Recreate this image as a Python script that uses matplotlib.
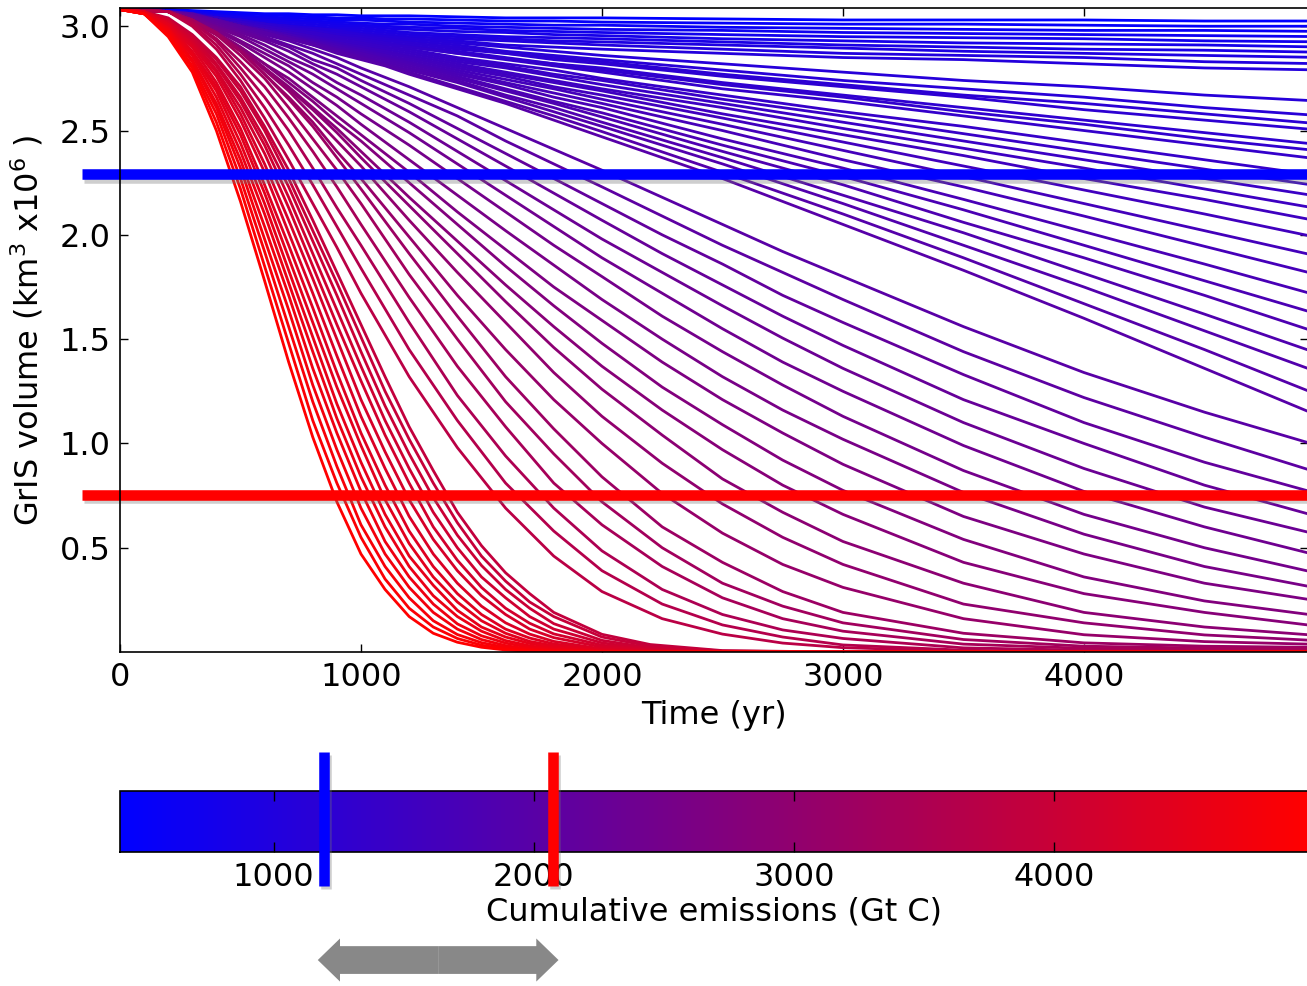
import matplotlib
matplotlib.use("Agg")
import matplotlib.pyplot as plt
import matplotlib.patheffects as pe
from matplotlib.colors import LinearSegmentedColormap, Normalize
from matplotlib.cm import ScalarMappable

# ---- data (ice volume in km3 x1e6), runs ordered from low to high emissions ----
years = [0, 100, 200, 300, 400, 500, 600, 700, 800, 900, 1000, 1100, 1200,
         1400, 1600, 1800, 2000, 2500, 3000, 3500, 4000, 4500, 5000]

stable_emissions = [420, 500, 580, 660, 740, 820, 880, 940, 1000, 1050]
stable_runs = [
    [3.08, 3.08, 3.08, 3.075, 3.07, 3.065, 3.06, 3.06, 3.055, 3.055, 3.05, 3.05, 3.05, 3.045, 3.04, 3.04, 3.04, 3.035, 3.03, 3.03, 3.03, 3.025, 3.025],
    [3.08, 3.08, 3.08, 3.07, 3.065, 3.06, 3.055, 3.05, 3.045, 3.04, 3.04, 3.035, 3.035, 3.03, 3.025, 3.025, 3.02, 3.015, 3.01, 3.01, 3.005, 3.00, 3.00],
    [3.08, 3.08, 3.075, 3.07, 3.06, 3.05, 3.045, 3.04, 3.035, 3.03, 3.03, 3.025, 3.02, 3.015, 3.01, 3.005, 3.005, 2.995, 2.99, 2.985, 2.98, 2.98, 2.975],
    [3.08, 3.08, 3.075, 3.065, 3.055, 3.045, 3.04, 3.03, 3.025, 3.02, 3.015, 3.01, 3.01, 3.00, 2.995, 2.99, 2.985, 2.98, 2.97, 2.965, 2.96, 2.955, 2.95],
    [3.08, 3.08, 3.075, 3.06, 3.05, 3.04, 3.03, 3.02, 3.02, 3.01, 3.005, 3.00, 2.995, 2.99, 2.98, 2.975, 2.97, 2.96, 2.95, 2.945, 2.94, 2.93, 2.925],
    [3.08, 3.08, 3.07, 3.06, 3.05, 3.04, 3.03, 3.02, 3.01, 3.00, 3.00, 2.99, 2.985, 2.975, 2.97, 2.96, 2.955, 2.94, 2.93, 2.92, 2.915, 2.91, 2.90],
    [3.08, 3.08, 3.07, 3.06, 3.04, 3.03, 3.02, 3.01, 3.00, 2.99, 2.99, 2.98, 2.97, 2.96, 2.95, 2.945, 2.94, 2.925, 2.91, 2.90, 2.89, 2.885, 2.875],
    [3.08, 3.08, 3.07, 3.055, 3.04, 3.03, 3.015, 3.00, 2.99, 2.985, 2.98, 2.97, 2.96, 2.95, 2.94, 2.93, 2.925, 2.91, 2.895, 2.88, 2.87, 2.86, 2.85],
    [3.08, 3.08, 3.07, 3.05, 3.04, 3.02, 3.01, 3.00, 2.99, 2.98, 2.97, 2.96, 2.95, 2.94, 2.93, 2.92, 2.91, 2.89, 2.87, 2.86, 2.85, 2.83, 2.82],
    [3.08, 3.08, 3.07, 3.05, 3.03, 3.02, 3.00, 2.99, 2.98, 2.97, 2.96, 2.95, 2.94, 2.93, 2.91, 2.90, 2.89, 2.87, 2.85, 2.84, 2.82, 2.80, 2.79],
]

slow_emissions = [1100, 1140, 1180, 1220, 1260, 1300, 1340, 1380, 1420, 1460, 1500,
                  1540, 1585, 1630, 1675, 1720, 1765, 1810, 1850, 1890, 1930, 1970]
slow_runs = [
    [3.08, 3.08, 3.07, 3.06, 3.04, 3.03, 3.01, 3.00, 2.99, 2.98, 2.96, 2.95, 2.94, 2.92, 2.90, 2.88, 2.86, 2.82, 2.78, 2.74, 2.71, 2.67, 2.64],
    [3.08, 3.08, 3.07, 3.06, 3.04, 3.03, 3.01, 3.00, 2.98, 2.97, 2.96, 2.94, 2.93, 2.91, 2.88, 2.86, 2.84, 2.79, 2.74, 2.70, 2.66, 2.61, 2.57],
    [3.08, 3.08, 3.07, 3.055, 3.04, 3.02, 3.01, 2.99, 2.98, 2.96, 2.95, 2.94, 2.92, 2.90, 2.87, 2.85, 2.83, 2.77, 2.72, 2.67, 2.63, 2.58, 2.53],
    [3.08, 3.08, 3.07, 3.06, 3.04, 3.02, 3.01, 2.99, 2.98, 2.96, 2.95, 2.93, 2.92, 2.89, 2.87, 2.84, 2.82, 2.76, 2.71, 2.66, 2.60, 2.55, 2.50],
    [3.08, 3.08, 3.07, 3.05, 3.04, 3.02, 3.00, 2.99, 2.97, 2.95, 2.94, 2.92, 2.91, 2.88, 2.85, 2.82, 2.80, 2.73, 2.67, 2.61, 2.55, 2.49, 2.43],
    [3.08, 3.08, 3.07, 3.05, 3.04, 3.02, 3.00, 2.98, 2.97, 2.95, 2.94, 2.92, 2.90, 2.87, 2.845, 2.82, 2.79, 2.72, 2.66, 2.59, 2.53, 2.46, 2.40],
    [3.08, 3.08, 3.07, 3.05, 3.04, 3.02, 3.00, 2.98, 2.97, 2.95, 2.93, 2.91, 2.90, 2.87, 2.84, 2.81, 2.78, 2.70, 2.64, 2.57, 2.50, 2.43, 2.36],
    [3.08, 3.08, 3.07, 3.05, 3.03, 3.01, 3.00, 2.98, 2.96, 2.94, 2.92, 2.90, 2.89, 2.85, 2.82, 2.79, 2.75, 2.67, 2.59, 2.52, 2.44, 2.36, 2.28],
    [3.08, 3.08, 3.07, 3.05, 3.03, 3.01, 2.99, 2.97, 2.95, 2.935, 2.92, 2.90, 2.88, 2.84, 2.81, 2.77, 2.74, 2.65, 2.57, 2.485, 2.40, 2.315, 2.23],
    [3.08, 3.08, 3.07, 3.05, 3.03, 3.01, 2.99, 2.97, 2.95, 2.93, 2.91, 2.89, 2.87, 2.83, 2.80, 2.76, 2.72, 2.63, 2.54, 2.45, 2.36, 2.27, 2.18],
    [3.08, 3.08, 3.07, 3.05, 3.03, 3.01, 2.99, 2.97, 2.95, 2.92, 2.90, 2.88, 2.86, 2.82, 2.78, 2.74, 2.70, 2.61, 2.51, 2.415, 2.32, 2.22, 2.12],
    [3.08, 3.08, 3.07, 3.05, 3.03, 3.01, 2.98, 2.96, 2.94, 2.92, 2.90, 2.88, 2.85, 2.81, 2.77, 2.73, 2.69, 2.58, 2.48, 2.38, 2.27, 2.17, 2.06],
    [3.08, 3.08, 3.07, 3.05, 3.03, 3.005, 2.98, 2.96, 2.94, 2.915, 2.89, 2.87, 2.85, 2.80, 2.76, 2.71, 2.67, 2.56, 2.445, 2.33, 2.215, 2.10, 1.98],
    [3.08, 3.08, 3.07, 3.05, 3.03, 3.005, 2.98, 2.96, 2.935, 2.91, 2.89, 2.86, 2.84, 2.79, 2.745, 2.70, 2.65, 2.53, 2.405, 2.28, 2.15, 2.02, 1.89],
    [3.08, 3.08, 3.07, 3.05, 3.03, 3.00, 2.98, 2.96, 2.93, 2.91, 2.88, 2.86, 2.83, 2.78, 2.73, 2.68, 2.63, 2.50, 2.36, 2.23, 2.09, 1.945, 1.80],
    [3.08, 3.08, 3.07, 3.05, 3.03, 3.00, 2.98, 2.95, 2.93, 2.90, 2.88, 2.85, 2.825, 2.77, 2.72, 2.66, 2.61, 2.46, 2.32, 2.17, 2.015, 1.86, 1.70],
    [3.08, 3.08, 3.07, 3.05, 3.03, 3.00, 2.98, 2.95, 2.925, 2.90, 2.87, 2.845, 2.82, 2.76, 2.70, 2.64, 2.585, 2.43, 2.28, 2.12, 1.95, 1.78, 1.61],
    [3.08, 3.08, 3.07, 3.05, 3.03, 3.00, 2.98, 2.95, 2.92, 2.89, 2.87, 2.84, 2.81, 2.75, 2.69, 2.63, 2.565, 2.40, 2.24, 2.06, 1.89, 1.71, 1.52],
    [3.08, 3.08, 3.07, 3.05, 3.03, 3.00, 2.97, 2.95, 2.92, 2.89, 2.86, 2.83, 2.80, 2.74, 2.67, 2.61, 2.54, 2.37, 2.19, 2.01, 1.815, 1.62, 1.42],
    [3.08, 3.08, 3.07, 3.05, 3.025, 3.00, 2.97, 2.94, 2.92, 2.885, 2.855, 2.82, 2.79, 2.73, 2.66, 2.59, 2.52, 2.34, 2.15, 1.95, 1.75, 1.54, 1.33],
    [3.08, 3.08, 3.07, 3.05, 3.03, 3.00, 2.97, 2.94, 2.91, 2.88, 2.85, 2.815, 2.78, 2.71, 2.64, 2.57, 2.495, 2.30, 2.10, 1.89, 1.67, 1.45, 1.22],
    [3.08, 3.08, 3.07, 3.05, 3.025, 3.00, 2.97, 2.94, 2.91, 2.87, 2.84, 2.81, 2.77, 2.70, 2.63, 2.55, 2.47, 2.27, 2.05, 1.83, 1.60, 1.36, 1.12],
]

fast_years = [0, 200, 300, 400, 500, 600, 700, 800, 900, 1000, 1200, 1400,
              1600, 1800, 2000, 2250, 2500, 2750, 3000, 3500, 4000, 4500, 5000]
fast_emissions = [2000, 2080, 2160, 2240, 2320, 2400, 2480, 2560, 2650, 2740,
                  2830, 2920, 3010, 3100, 3200, 3300, 3400, 3500, 3620, 3740]
fast_runs = [
    [3.08, 3.07, 3.06, 3.03, 3.00, 2.96, 2.93, 2.89, 2.85, 2.80, 2.71, 2.61, 2.51, 2.41, 2.31, 2.18, 2.05, 1.92, 1.80, 1.56, 1.34, 1.15, 0.98],
    [3.08, 3.07, 3.05, 3.03, 2.99, 2.95, 2.91, 2.87, 2.82, 2.77, 2.67, 2.57, 2.45, 2.34, 2.23, 2.09, 1.95, 1.82, 1.69, 1.44, 1.22, 1.03, 0.85],
    [3.08, 3.07, 3.05, 3.02, 2.98, 2.94, 2.90, 2.84, 2.80, 2.74, 2.63, 2.51, 2.39, 2.27, 2.15, 2.00, 1.86, 1.71, 1.58, 1.33, 1.10, 0.91, 0.75],
    [3.08, 3.07, 3.05, 3.01, 2.97, 2.93, 2.88, 2.82, 2.77, 2.71, 2.59, 2.46, 2.33, 2.20, 2.07, 1.91, 1.76, 1.61, 1.47, 1.21, 1.00, 0.80, 0.64],
    [3.08, 3.07, 3.045, 3.00, 2.96, 2.91, 2.85, 2.80, 2.73, 2.67, 2.54, 2.40, 2.26, 2.12, 1.98, 1.82, 1.66, 1.505, 1.36, 1.10, 0.88, 0.695, 0.555],
    [3.08, 3.07, 3.04, 2.995, 2.95, 2.89, 2.83, 2.77, 2.70, 2.63, 2.49, 2.34, 2.19, 2.04, 1.89, 1.72, 1.55, 1.39, 1.25, 0.99, 0.77, 0.60, 0.455],
    [3.08, 3.07, 3.03, 2.99, 2.93, 2.87, 2.81, 2.73, 2.66, 2.58, 2.43, 2.27, 2.11, 1.95, 1.80, 1.61, 1.44, 1.28, 1.13, 0.87, 0.66, 0.50, 0.37],
    [3.08, 3.07, 3.03, 2.98, 2.92, 2.85, 2.78, 2.70, 2.62, 2.53, 2.36, 2.19, 2.02, 1.855, 1.69, 1.50, 1.32, 1.16, 1.02, 0.765, 0.565, 0.41, 0.30],
    [3.08, 3.07, 3.03, 2.97, 2.90, 2.82, 2.75, 2.66, 2.57, 2.48, 2.30, 2.11, 1.93, 1.75, 1.59, 1.39, 1.21, 1.05, 0.90, 0.65, 0.47, 0.33, 0.24],
    [3.08, 3.07, 3.02, 2.97, 2.90, 2.82, 2.73, 2.64, 2.54, 2.45, 2.25, 2.05, 1.85, 1.66, 1.48, 1.27, 1.09, 0.92, 0.775, 0.54, 0.36, 0.245, 0.17],
    [3.08, 3.07, 3.02, 2.96, 2.89, 2.80, 2.71, 2.61, 2.51, 2.40, 2.18, 1.97, 1.76, 1.56, 1.37, 1.16, 0.97, 0.80, 0.66, 0.43, 0.28, 0.19, 0.12],
    [3.08, 3.07, 3.03, 2.97, 2.89, 2.80, 2.70, 2.60, 2.49, 2.37, 2.14, 1.91, 1.68, 1.46, 1.26, 1.04, 0.83, 0.67, 0.53, 0.33, 0.19, 0.12, 0.077],
    [3.08, 3.07, 3.03, 2.96, 2.89, 2.79, 2.69, 2.57, 2.45, 2.33, 2.07, 1.82, 1.58, 1.34, 1.13, 0.905, 0.71, 0.55, 0.42, 0.23, 0.14, 0.082, 0.053],
    [3.08, 3.07, 3.03, 2.96, 2.88, 2.77, 2.66, 2.54, 2.40, 2.27, 1.99, 1.71, 1.45, 1.21, 1.00, 0.76, 0.57, 0.42, 0.31, 0.16, 0.083, 0.05, 0.036],
    [3.08, 3.07, 3.03, 2.97, 2.88, 2.77, 2.65, 2.52, 2.37, 2.22, 1.91, 1.61, 1.32, 1.07, 0.84, 0.60, 0.43, 0.29, 0.19, 0.09, 0.044, 0.028, 0.022],
    [3.08, 3.07, 3.03, 2.96, 2.86, 2.75, 2.61, 2.46, 2.31, 2.15, 1.81, 1.50, 1.20, 0.95, 0.72, 0.50, 0.33, 0.22, 0.14, 0.06, 0.028, 0.019, 0.015],
    [3.08, 3.07, 3.02, 2.94, 2.83, 2.71, 2.56, 2.40, 2.23, 2.05, 1.70, 1.37, 1.08, 0.81, 0.61, 0.41, 0.26, 0.16, 0.10, 0.038, 0.018, 0.012, 0.01],
    [3.08, 3.07, 3.02, 2.93, 2.80, 2.66, 2.50, 2.32, 2.13, 1.95, 1.58, 1.23, 0.94, 0.69, 0.485, 0.30, 0.18, 0.106, 0.065, 0.02, 0.009, 0.005, 0.005],
    [3.08, 3.07, 3.01, 2.91, 2.77, 2.61, 2.43, 2.24, 2.04, 1.84, 1.45, 1.11, 0.81, 0.58, 0.39, 0.23, 0.13, 0.072, 0.034, 0.009, 0, 0, 0],
    [3.08, 3.07, 3.00, 2.89, 2.74, 2.56, 2.36, 2.15, 1.94, 1.72, 1.32, 0.98, 0.69, 0.46, 0.29, 0.16, 0.086, 0.043, 0.021, 0.004, 0, 0, 0],
]

collapse_years = [0, 100, 200, 300, 400, 500, 600, 700, 800, 900, 1000, 1100,
                  1200, 1300, 1400, 1500, 1600, 1700, 1800, 2000, 2200, 2500, 3000, 5000]
collapse_emissions = [3880, 3950, 4020, 4090, 4160, 4230, 4300, 4380,
                      4450, 4520, 4600, 4670, 4750, 4820, 4900, 4970]
collapse_runs = [
    [3.08, 3.07, 3.04, 2.96, 2.85, 2.71, 2.52, 2.31, 2.07, 1.82, 1.57, 1.32, 1.08, 0.87, 0.67, 0.51, 0.38, 0.28, 0.19, 0.085, 0.036, 0.007, 0, 0],
    [3.08, 3.07, 3.03, 2.95, 2.84, 2.69, 2.50, 2.27, 2.02, 1.77, 1.51, 1.25, 1.02, 0.81, 0.62, 0.46, 0.34, 0.24, 0.17, 0.072, 0.028, 0.005, 0, 0],
    [3.08, 3.07, 3.03, 2.95, 2.82, 2.66, 2.46, 2.23, 1.97, 1.71, 1.44, 1.18, 0.95, 0.74, 0.56, 0.415, 0.30, 0.21, 0.136, 0.056, 0.02, 0.003, 0, 0],
    [3.08, 3.07, 3.03, 2.94, 2.81, 2.64, 2.43, 2.18, 1.91, 1.64, 1.37, 1.11, 0.88, 0.67, 0.50, 0.36, 0.26, 0.17, 0.11, 0.044, 0.014, 0.002, 0, 0],
    [3.08, 3.07, 3.03, 2.93, 2.79, 2.61, 2.39, 2.13, 1.85, 1.57, 1.30, 1.04, 0.81, 0.60, 0.44, 0.31, 0.21, 0.138, 0.087, 0.033, 0.01, 0.001, 0, 0],
    [3.08, 3.07, 3.02, 2.92, 2.78, 2.58, 2.34, 2.07, 1.79, 1.50, 1.21, 0.96, 0.73, 0.54, 0.39, 0.27, 0.18, 0.11, 0.069, 0.024, 0.007, 0, 0, 0],
    [3.08, 3.07, 3.02, 2.91, 2.76, 2.55, 2.30, 2.01, 1.72, 1.42, 1.13, 0.88, 0.65, 0.47, 0.33, 0.22, 0.14, 0.086, 0.051, 0.015, 0.004, 0, 0, 0],
    [3.08, 3.07, 3.01, 2.90, 2.73, 2.51, 2.24, 1.95, 1.65, 1.34, 1.05, 0.80, 0.58, 0.41, 0.28, 0.18, 0.11, 0.067, 0.039, 0.011, 0.003, 0, 0, 0],
    [3.08, 3.07, 3.01, 2.88, 2.71, 2.48, 2.20, 1.89, 1.58, 1.27, 0.99, 0.73, 0.52, 0.36, 0.24, 0.15, 0.09, 0.051, 0.03, 0.007, 0.002, 0, 0, 0],
    [3.08, 3.07, 3.00, 2.87, 2.69, 2.44, 2.15, 1.83, 1.51, 1.19, 0.91, 0.66, 0.46, 0.32, 0.20, 0.12, 0.072, 0.041, 0.021, 0.005, 0.001, 0, 0, 0],
    [3.08, 3.06, 2.99, 2.86, 2.66, 2.40, 2.10, 1.77, 1.44, 1.12, 0.84, 0.60, 0.41, 0.27, 0.17, 0.10, 0.055, 0.03, 0.014, 0.003, 0, 0, 0, 0],
    [3.08, 3.06, 2.99, 2.84, 2.63, 2.36, 2.04, 1.71, 1.36, 1.05, 0.77, 0.53, 0.36, 0.23, 0.135, 0.078, 0.043, 0.022, 0.01, 0.002, 0, 0, 0, 0],
    [3.08, 3.06, 2.98, 2.83, 2.61, 2.32, 1.98, 1.64, 1.28, 0.97, 0.69, 0.47, 0.31, 0.19, 0.11, 0.06, 0.031, 0.014, 0.007, 0.001, 0, 0, 0, 0],
    [3.08, 3.06, 2.97, 2.81, 2.58, 2.27, 1.92, 1.56, 1.20, 0.89, 0.61, 0.41, 0.26, 0.15, 0.084, 0.045, 0.022, 0.01, 0.004, 0, 0, 0, 0, 0],
    [3.08, 3.06, 2.96, 2.80, 2.54, 2.22, 1.85, 1.48, 1.11, 0.81, 0.55, 0.35, 0.21, 0.12, 0.065, 0.033, 0.014, 0.006, 0.003, 0, 0, 0, 0, 0],
    [3.08, 3.06, 2.95, 2.78, 2.50, 2.16, 1.78, 1.39, 1.03, 0.72, 0.47, 0.30, 0.17, 0.09, 0.047, 0.023, 0.01, 0.004, 0.002, 0, 0, 0, 0, 0],
]

# thresholds marked on the figure
threshold_volume = [2.29, 0.755]
threshold_emissions = [1192, 2074]
threshold_colors = ['#0000ff', '#ff0000']
arrow_span = [1170, 2095]

fs = 23
cmap = LinearSegmentedColormap.from_list('blue_red', ['#0000ff', '#ff0000'])
norm = Normalize(vmin=410, vmax=4975)

fig = plt.figure(figsize=(13.07, 9.86), dpi=100)
ax = fig.add_axes([0.0918, 0.3387, 0.909, 0.6531])

groups = [(years, stable_runs, stable_emissions),
          (years, slow_runs, slow_emissions),
          (fast_years, fast_runs, fast_emissions),
          (collapse_years, collapse_runs, collapse_emissions)]
for t, runs, emis in groups:
    for vol, e in zip(runs, emis):
        ax.plot(t, vol, color=cmap(norm(e)), lw=2.0)

ax.set_xlim(0, 4930)
ax.set_ylim(0, 3.087)
ax.set_xticks([0, 1000, 2000, 3000, 4000])
ax.set_yticks([0.5, 1.0, 1.5, 2.0, 2.5, 3.0])
ax.tick_params(direction='in', top=True, right=True, length=6, width=1,
               labelsize=fs, pad=7)
for s in ax.spines.values():
    s.set_linewidth(1.2)
    s.set_zorder(6)
ax.set_xlabel('Time (yr)', fontsize=fs, labelpad=5)
ax.set_ylabel('GrIS volume (km$^3$ x10$^6$ )', fontsize=fs, labelpad=10)

shadow = [pe.SimpleLineShadow(offset=(1.5, -2.5), shadow_color='0.45', alpha=0.35), pe.Normal()]
for v, c in zip(threshold_volume, threshold_colors):
    ax.axhline(v, xmin=-0.032, xmax=1.0, color=c, lw=7.6, clip_on=False,
               zorder=5, solid_capstyle='butt', path_effects=shadow)

# colour bar
cax = fig.add_axes([0.0918, 0.1359, 0.909, 0.0619])
cb = fig.colorbar(ScalarMappable(norm=norm, cmap=cmap), cax=cax,
                  orientation='horizontal', ticks=[1000, 2000, 3000, 4000])
cb.ax.tick_params(direction='in', top=True, bottom=True, length=7, width=1,
                  labelsize=fs, pad=7)
cb.outline.set_linewidth(1.2)
cb.set_label('Cumulative emissions (Gt C)', fontsize=fs, labelpad=3)

for e, c in zip(threshold_emissions, threshold_colors):
    cax.axvline(e, ymin=-0.557, ymax=1.644, color=c, lw=7.6, clip_on=False,
                zorder=5, solid_capstyle='butt', path_effects=shadow)

mid = sum(arrow_span) / 2
for end in arrow_span:
    cax.annotate('', xy=(end, -1.77), xytext=(mid, -1.77),
                 xycoords=('data', 'axes fraction'),
                 textcoords=('data', 'axes fraction'),
                 arrowprops=dict(arrowstyle='simple,head_length=16,head_width=31,tail_width=20',
                                 mutation_scale=1, color='#888888', shrinkA=0, shrinkB=0,
                                 lw=0),
                 annotation_clip=False)

fig.savefig('out.png', dpi=100)
